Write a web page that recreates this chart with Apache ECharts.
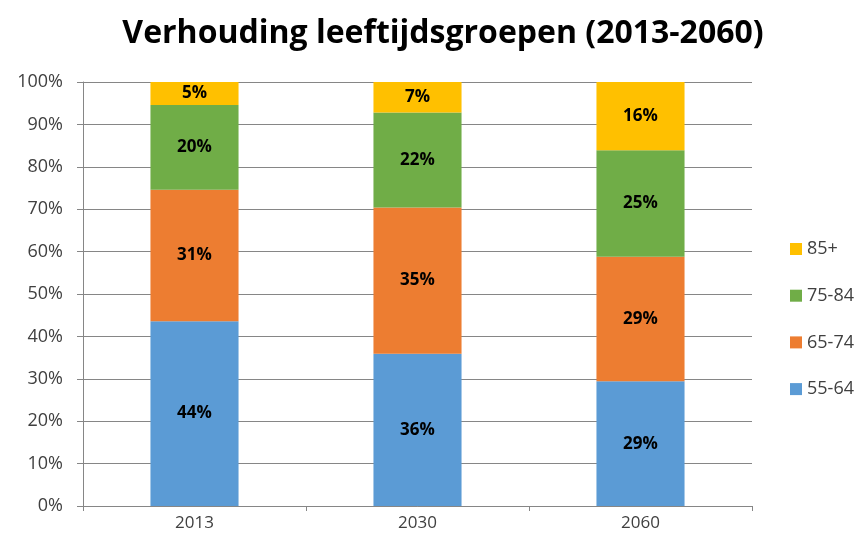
<!DOCTYPE html>
<html style="height: 100%">
<head>
<meta charset="utf-8">
<script src="https://cdn.jsdelivr.net/npm/echarts@6/dist/echarts.min.js"></script>
</head>
<body style="height: 100%; margin: 0; background: #fff">
<div id="container" style="width: 864px; height: 548px"></div>
<script>
// shares per age group (percent of total)
var years = ['2013', '2030', '2060'];
var groups = ['55-64', '65-74', '75-84', '85+'];
var g5564 = [43.6, 35.9, 29.4];
var g6574 = [31.0, 34.5, 29.4];
var g7584 = [20.0, 22.4, 25.1];
var g85 = [5.4, 7.2, 16.1];
var colors = ['#5b9bd5', '#ed7d31', '#70ad47', '#ffc000'];
var yTicks = [0, 10, 20, 30, 40, 50, 60, 70, 80, 90, 100];

var dom = document.getElementById('container');
var myChart = echarts.init(dom);
var font = 'Open Sans';

function bar(name, data, i) {
    return {
        name: name,
        type: 'bar',
        stack: 'total',
        data: data,
        barWidth: '39.5%',
        itemStyle: { color: colors[i] },
        label: {
            show: true,
            position: 'inside',
            color: '#000',
            fontFamily: font,
            fontWeight: 'bold',
            fontSize: 17,
            formatter: function (p) { return Math.round(p.value) + '%'; }
        }
    };
}

var option = {
    animation: false,
    textStyle: { fontFamily: font },
    title: {
        text: 'Verhouding leeftijdsgroepen (2013-2060)',
        left: 438,
        textAlign: 'center',
        top: 13,
        textStyle: { fontFamily: font, fontWeight: 'bold', fontSize: 32, color: '#000' }
    },
    legend: {
        orient: 'vertical',
        left: 785,
        top: 235,
        itemWidth: 12,
        itemHeight: 12,
        itemGap: 28.7,
        icon: 'rect',
        data: ['85+', '75-84', '65-74', '55-64'],
        textStyle: { fontSize: 18, lineHeight: 14, color: '#404040', fontFamily: font }
    },
    grid: { left: 83, right: 112, top: 82, bottom: 42, containLabel: false },
    xAxis: {
        type: 'category',
        data: years,
        axisLine: { lineStyle: { color: '#868686' } },
        axisTick: { show: true, length: 5, lineStyle: { color: '#868686' } },
        axisLabel: { fontSize: 17, color: '#404040', margin: 9 }
    },
    yAxis: {
        type: 'value',
        min: 0,
        max: 100,
        interval: 10,
        axisLine: { show: true, lineStyle: { color: '#868686' } },
        axisTick: { show: true, length: 6, lineStyle: { color: '#868686' } },
        splitLine: { lineStyle: { color: '#868686' } },
        axisLabel: {
            fontSize: 18,
            color: '#404040',
            margin: 20,
            formatter: function (v) { return yTicks.indexOf(v) >= 0 ? v + '%' : ''; }
        }
    },
    series: [
        bar(groups[0], g5564, 0),
        bar(groups[1], g6574, 1),
        bar(groups[2], g7584, 2),
        bar(groups[3], g85, 3)
    ]
};
myChart.setOption(option, true);
</script>
</body>
</html>
